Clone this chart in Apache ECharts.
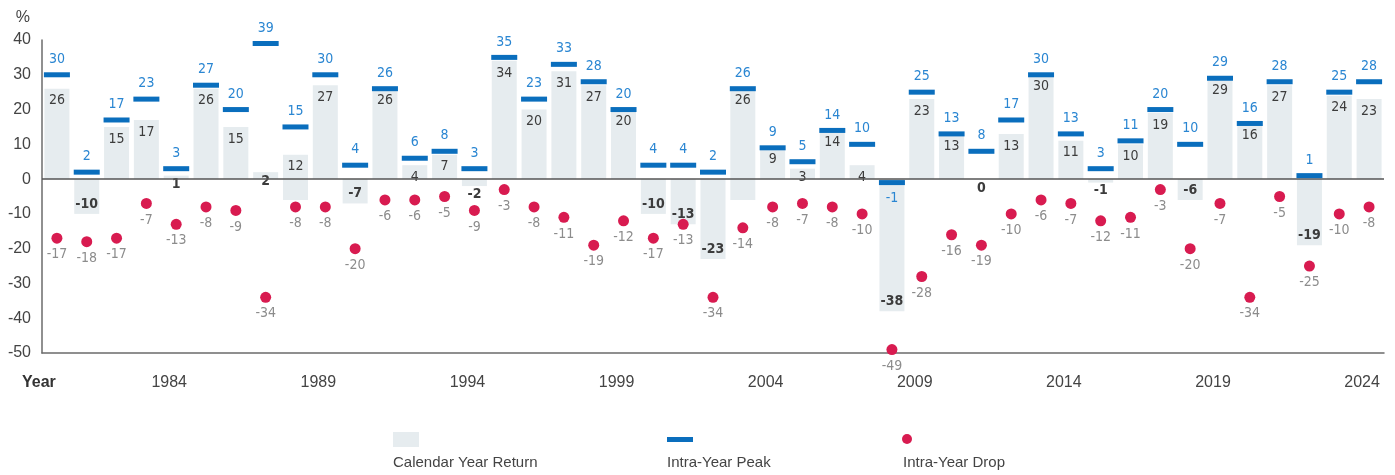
<!DOCTYPE html>
<html>
<head>
<meta charset="utf-8">
<script src="https://cdn.jsdelivr.net/npm/echarts@6/dist/echarts.min.js"></script>
<style>
  html, body { margin: 0; padding: 0; background: #fff; }
  #chart { width: 1395px; height: 475px; }
</style>
</head>
<body>
<div id="chart"></div>
<script>
// Calendar year returns vs intra-year peak and drop, 1980-2024

const years = [
  '1980','1981','1982','1983','1984','1985','1986','1987','1988','1989',
  '1990','1991','1992','1993','1994','1995','1996','1997','1998','1999',
  '2000','2001','2002','2003','2004','2005','2006','2007','2008','2009',
  '2010','2011','2012','2013','2014','2015','2016','2017','2018','2019',
  '2020','2021','2022','2023','2024'
];

// printed calendar year return (%)
const calendarReturn = [
  26, -10, 15, 17, 1, 26, 15, 2, 12, 27,
  -7, 26, 4, 7, -2, 34, 20, 31, 27, 20,
  -10, -13, -23, 26, 9, 3, 14, 4, -38, 23,
  13, 0, 13, 30, 11, -1, 10, 19, -6, 29,
  16, 27, -19, 24, 23
];

// bar height as drawn (1988 is drawn short in the source)
const barDrawn = [
  26, -10, 15, 17, 1, 26, 15, 2, 7, 27,
  -7, 26, 4, 7, -2, 34, 20, 31, 27, 20,
  -10, -13, -23, 26, 9, 3, 14, 4, -38, 23,
  13, 0, 13, 30, 11, -1, 10, 19, -6, 29,
  16, 27, -19, 24, 23
];

// part of a bar that spills below zero in the source
const barSpill = [
  null, null, null, null, null, null, null, null, -6, null,
  null, null, null, null, null, null, null, null, null, null,
  null, null, null, -6, null, null, null, null, null, null,
  null, null, null, null, null, null, null, null, null, null,
  null, null, null, null, null
];

const intraYearPeak = [
  30, 2, 17, 23, 3, 27, 20, 39, 15, 30,
  4, 26, 6, 8, 3, 35, 23, 33, 28, 20,
  4, 4, 2, 26, 9, 5, 14, 10, -1, 25,
  13, 8, 17, 30, 13, 3, 11, 20, 10, 29,
  16, 28, 1, 25, 28
];

const intraYearDrop = [
  -17, -18, -17, -7, -13, -8, -9, -34, -8, -8,
  -20, -6, -6, -5, -9, -3, -8, -11, -19, -12,
  -17, -13, -34, -14, -8, -7, -8, -10, -49, -28,
  -16, -19, -10, -6, -7, -12, -11, -3, -20, -7,
  -34, -5, -25, -10, -8
];

const BAR = '#e6ecef';
const PEAK = '#0a6ebd';
const PEAK_TXT = '#2a86d2';
const DROP = '#d81b50';
const DROP_TXT = '#8c8c8c';
const RET_TXT = '#3c3c3c';
const AXIS = '#6b6b6b';
const NARROW = '"Liberation Sans Narrow", "DejaVu Sans Condensed", sans-serif';
const SANS = '"Liberation Sans", Arial, sans-serif';

function returnLabel(v) {
  if (v >= 0) {
    return { position: 'insideTop', distance: v < 4 ? 2 : 5, fontWeight: v < 3 ? 'bold' : 'normal' };
  }
  if (v > -4) return { position: 'bottom', distance: 1, fontWeight: 'bold' };
  return { position: 'insideBottom', distance: 3, fontWeight: 'bold' };
}

const chart = echarts.init(document.getElementById('chart'), null, { renderer: 'canvas' });

chart.setOption({
  animation: false,
  backgroundColor: '#fff',
  textStyle: { fontFamily: SANS },
  grid: { left: 42, right: 11, top: 40, bottom: 122 },
  xAxis: {
    type: 'category',
    data: years,
    axisLine: { onZero: false, lineStyle: { color: AXIS, width: 1.5 } },
    axisTick: { show: false },
    axisLabel: {
      interval: (i, v) => (Number(v) - 1984) % 5 === 0,
      color: '#444',
      fontSize: 16,
      margin: 22,
      padding: [0, 14, 0, 0]
    }
  },
  yAxis: {
    type: 'value',
    min: -50,
    max: 40,
    interval: 10,
    name: '%',
    nameGap: 14,
    nameTextStyle: { color: '#444', fontSize: 16, align: 'right', padding: [0, 12, 0, 0] },
    axisLine: { show: true, lineStyle: { color: AXIS, width: 1.5 } },
    axisTick: { show: false },
    splitLine: { show: false },
    axisLabel: { color: '#444', fontSize: 16, margin: 11 }
  },
  series: [
    {
      name: 'Calendar Year Return',
      type: 'bar',
      barWidth: 25,
      barGap: '-100%',
      itemStyle: { color: BAR },
      data: barDrawn.map((v, i) => ({
        value: v,
        label: Object.assign({
          show: true,
          color: RET_TXT,
          fontFamily: NARROW,
          fontSize: 14,
          formatter: () => String(calendarReturn[i])
        }, returnLabel(calendarReturn[i]))
      })),
      markLine: {
        silent: true,
        symbol: 'none',
        label: { show: false },
        lineStyle: { color: '#555', width: 1.5, type: 'solid' },
        data: [{ yAxis: 0 }]
      },
      z: 2
    },
    {
      name: 'spill',
      type: 'bar',
      barWidth: 25,
      itemStyle: { color: BAR },
      data: barSpill,
      z: 2
    },
    {
      name: 'Intra-Year Peak',
      type: 'scatter',
      symbol: 'rect',
      symbolSize: [26, 5],
      itemStyle: { color: PEAK, opacity: 1 },
      data: intraYearPeak.map((v, i) => ({
        value: [years[i], v],
        label: {
          show: true,
          position: v < 0 ? 'bottom' : 'top',
          distance: 6,
          color: PEAK_TXT,
          fontFamily: NARROW,
          fontSize: 14,
          formatter: String(v)
        }
      })),
      z: 5
    },
    {
      name: 'Intra-Year Drop',
      type: 'scatter',
      symbol: 'circle',
      symbolSize: 11,
      itemStyle: { color: DROP, opacity: 1 },
      data: intraYearDrop.map((v, i) => ({
        value: [years[i], v],
        label: {
          show: true,
          position: 'bottom',
          distance: 4,
          color: DROP_TXT,
          fontFamily: NARROW,
          fontSize: 14,
          formatter: String(v)
        }
      })),
      z: 5
    }
  ],
  graphic: [
    { type: 'text', left: 22, top: 375, style: { text: 'Year', fill: '#333', font: 'bold 16px ' + SANS } },
    // legend
    { type: 'rect', shape: { x: 393, y: 432, width: 26, height: 15 }, style: { fill: BAR } },
    { type: 'text', left: 393, top: 455, style: { text: 'Calendar Year Return', fill: '#444', font: '15px ' + SANS } },
    { type: 'rect', shape: { x: 667, y: 437, width: 26, height: 5 }, style: { fill: PEAK } },
    { type: 'text', left: 667, top: 455, style: { text: 'Intra-Year Peak', fill: '#444', font: '15px ' + SANS } },
    { type: 'circle', shape: { cx: 907, cy: 439, r: 5 }, style: { fill: DROP } },
    { type: 'text', left: 903, top: 455, style: { text: 'Intra-Year Drop', fill: '#444', font: '15px ' + SANS } }
  ]
});
</script>
</body>
</html>
